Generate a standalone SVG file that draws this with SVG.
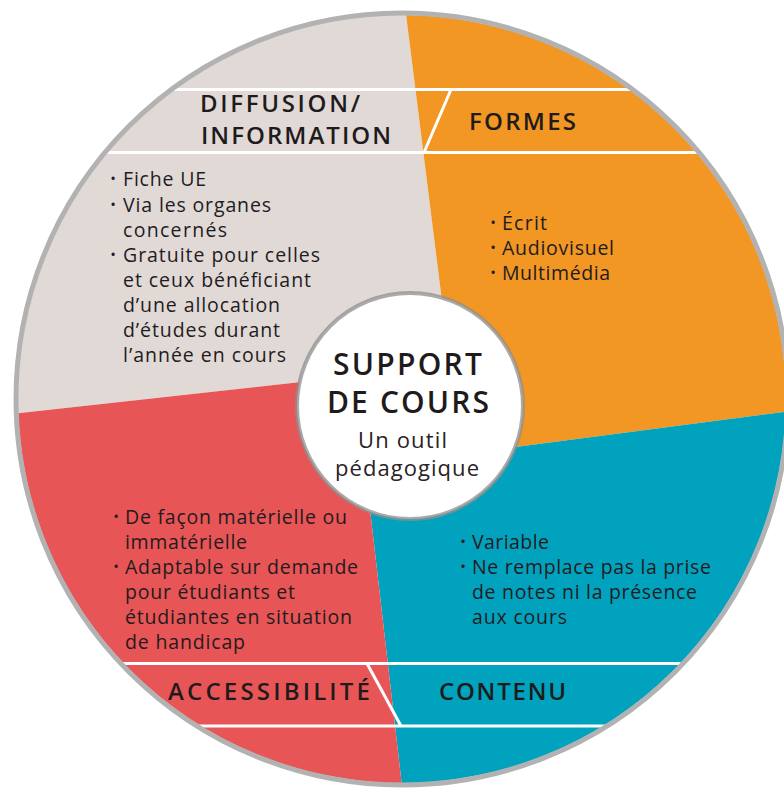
<svg xmlns="http://www.w3.org/2000/svg" width="784" height="789" viewBox="0 0 784 789">
  <defs>
    <!-- inner area of the big disc, used to trim the coloured sectors and the band rules -->
    <clipPath id="disc"><circle cx="402" cy="399" r="384"/></clipPath>
  </defs>
  <style>
    .lbl{font-family:"Open Sans","Liberation Sans",sans-serif;font-weight:600;font-size:24px;fill:#1f1b1c}
    .item{font-family:"Open Sans","Liberation Sans",sans-serif;font-weight:500;font-size:19.5px;fill:#231c1e}
    .dot{font-family:"Open Sans","Liberation Sans",sans-serif;font-size:15px;fill:#231c1e;text-anchor:middle}
    .title{font-family:"Open Sans","Liberation Sans",sans-serif;font-weight:600;font-size:30px;fill:#1f1b1c;text-anchor:middle}
    .sub{font-family:"Open Sans","Liberation Sans",sans-serif;font-weight:500;font-size:22px;fill:#2a2224;text-anchor:middle}
    .rule{stroke:#ffffff;stroke-width:3;fill:none}
  </style>

  <rect width="784" height="789" fill="#ffffff"/>

  <!-- sector: diffusion / information -->
  <g id="diffusion">
    <polygon clip-path="url(#disc)" fill="#e1d9d6" points="-20,-20 401.7,-20 450,365 355,376 -20,417.4"/>
    <text class="lbl" x="200" y="112" textLength="160">DIFFUSION/</text>
    <text class="lbl" x="201" y="144" textLength="190">INFORMATION</text>
    <text class="dot" x="113" y="184">•</text>
    <text class="item" x="123" y="186" textLength="83">Fiche UE</text>
    <text class="dot" x="113" y="210">•</text>
    <text class="item" x="123" y="212" textLength="148">Via les organes</text>
    <text class="item" x="123" y="237" textLength="104">concernés</text>
    <text class="dot" x="113" y="260">•</text>
    <text class="item" x="123" y="262" textLength="197">Gratuite pour celles</text>
    <text class="item" x="123" y="287" textLength="188">et ceux bénéficiant</text>
    <text class="item" x="123" y="312" textLength="157">d’une allocation</text>
    <text class="item" x="123" y="337" textLength="157">d’études durant</text>
    <text class="item" x="123" y="362" textLength="163">l’année en cours</text>
  </g>

  <!-- sector: formes -->
  <g id="formes">
    <polygon clip-path="url(#disc)" fill="#f29624" points="401.7,-20 820,-20 820,407.3 461,454 450,365"/>
    <text class="lbl" x="469" y="130" textLength="107">FORMES</text>
    <text class="dot" x="493" y="228">•</text>
    <text class="item" x="502" y="230" textLength="45">Écrit</text>
    <text class="dot" x="493" y="253">•</text>
    <text class="item" x="502" y="255" textLength="112">Audiovisuel</text>
    <text class="dot" x="493" y="278">•</text>
    <text class="item" x="502" y="280" textLength="108">Multimédia</text>
  </g>

  <!-- sector: contenu -->
  <g id="contenu">
    <polygon clip-path="url(#disc)" fill="#00a2be" points="820,407.3 820,820 405.9,820 365,466 461,454"/>
    <text class="lbl" x="439" y="700" textLength="127">CONTENU</text>
    <text class="dot" x="463" y="547">•</text>
    <text class="item" x="472" y="549" textLength="77">Variable</text>
    <text class="dot" x="463" y="572">•</text>
    <text class="item" x="472" y="574" textLength="239">Ne remplace pas la prise</text>
    <text class="item" x="472" y="599" textLength="225">de notes ni la présence</text>
    <text class="item" x="472" y="624" textLength="95">aux cours</text>
  </g>

  <!-- sector: accessibilite -->
  <g id="accessibilite">
    <polygon clip-path="url(#disc)" fill="#e85556" points="405.9,820 -20,820 -20,417.4 355,376 365,466"/>
    <text class="lbl" x="168" y="700" textLength="202">ACCESSIBILITÉ</text>
    <text class="dot" x="116" y="522">•</text>
    <text class="item" x="125" y="524" textLength="222">De façon matérielle ou</text>
    <text class="item" x="125" y="549" textLength="122">immatérielle</text>
    <text class="dot" x="116" y="572">•</text>
    <text class="item" x="125" y="574" textLength="233">Adaptable sur demande</text>
    <text class="item" x="125" y="599" textLength="170">pour étudiants et</text>
    <text class="item" x="125" y="624" textLength="227">étudiantes en situation</text>
    <text class="item" x="125" y="649" textLength="120">de handicap</text>
  </g>

  <!-- white band rules with their slanted separators -->
  <g id="bands" clip-path="url(#disc)">
    <line class="rule" x1="-20" y1="89.5" x2="820" y2="89.5"/>
    <line class="rule" x1="-20" y1="152.5" x2="820" y2="152.5"/>
    <line class="rule" x1="451" y1="89.5" x2="424" y2="152.5"/>
    <line class="rule" x1="-20" y1="663.5" x2="820" y2="663.5"/>
    <line class="rule" x1="-20" y1="726" x2="820" y2="726"/>
    <line class="rule" x1="367" y1="663.5" x2="401" y2="726"/>
  </g>

  <!-- outer rim -->
  <circle cx="402" cy="399" r="386" fill="none" stroke="#b2b2b2" stroke-width="5"/>

  <!-- hub -->
  <g id="hub">
    <circle cx="410" cy="406" r="113" fill="#ffffff" stroke="#8f8f8f" stroke-opacity="0.75" stroke-width="4"/>
    <text class="title" x="407.5" y="375" textLength="149">SUPPORT</text>
    <text class="title" x="408" y="413" textLength="162">DE COURS</text>
    <text class="sub" x="402.5" y="448" textLength="89">Un outil</text>
    <text class="sub" x="407" y="476" textLength="144">pédagogique</text>
  </g>
</svg>
